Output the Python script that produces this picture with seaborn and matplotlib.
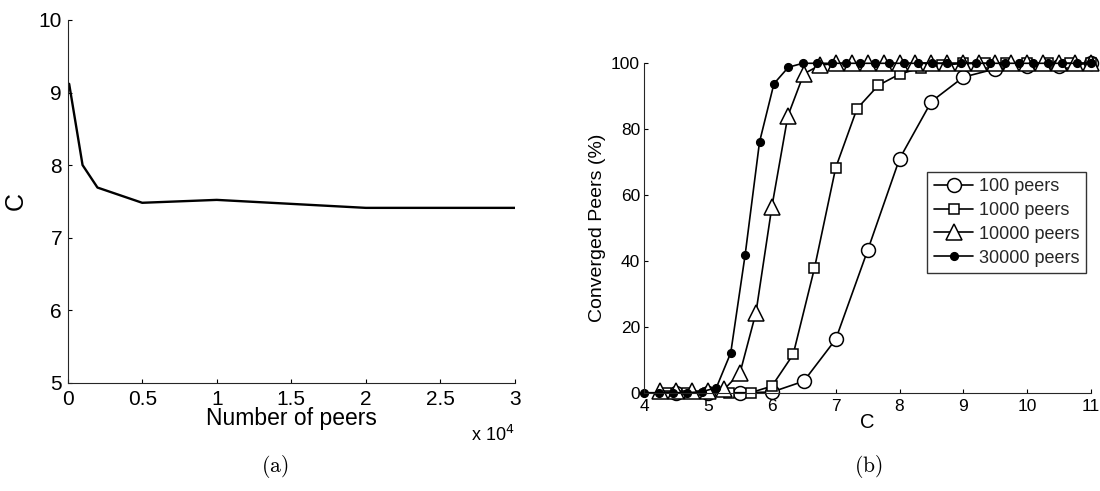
import matplotlib
matplotlib.use("Agg")
import matplotlib.pyplot as plt
from matplotlib.ticker import FuncFormatter
import seaborn as sns

# ---------------- data: panel (a) ----------------
peers_a = [100, 1000, 2000, 5000, 10000, 20000, 30000]
c_a = [9.12, 8.0, 7.69, 7.48, 7.52, 7.41, 7.41]

# ---------------- data: panel (b) ----------------
x_100 = [4.5, 5.0, 5.5, 6.0, 6.5, 7.0, 7.5, 8.0, 8.5, 9.0, 9.5, 10.0, 10.5, 11.0]
y_100 = [0, 0, 0, 0.2, 3.5, 16.2, 43.2, 71, 88.4, 95.8, 98.3, 99.2, 99.3, 100]

x_1000 = [4.333, 4.667, 5.0, 5.333, 5.667, 6.0, 6.333, 6.667, 7.0, 7.333, 7.667,
          8.0, 8.333, 8.667, 9.0, 9.333, 9.667, 10.0, 10.333, 10.667, 11.0]
y_1000 = [0, 0, 0, 0, 0, 2, 11.6, 37.8, 68.3, 86.2, 93.3, 96.7, 98.6, 99.4,
          100, 100, 100, 100, 100, 100, 100]

x_10000 = [4.25, 4.5, 4.75, 5.0, 5.25, 5.5, 5.75, 6.0, 6.25, 6.5, 6.75, 7.0, 7.25,
           7.5, 7.75, 8.0, 8.25, 8.5, 8.75, 9.0, 9.25, 9.5, 9.75, 10.0, 10.25,
           10.5, 10.75, 11.0]
y_10000 = [0.5, 0.5, 0.5, 0.5, 1.0, 6.0, 24.3, 56.5, 84.0, 96.8, 99.4, 100, 100,
           100, 100, 100, 100, 100, 100, 100, 100, 100, 100, 100, 100, 100, 100, 100]

x_30000 = [4.0, 4.226, 4.452, 4.677, 4.903, 5.129, 5.355, 5.581, 5.806, 6.032,
           6.258, 6.484, 6.71, 6.935, 7.161, 7.387, 7.613, 7.839, 8.065, 8.29,
           8.516, 8.742, 8.968, 9.194, 9.419, 9.645, 9.871, 10.097, 10.323,
           10.548, 10.774, 11.0]
y_30000 = [0, 0, 0, 0, 0.3, 1.5, 12.1, 41.9, 76.1, 93.8, 98.8, 100, 100, 100, 100,
           100, 100, 100, 100, 100, 100, 100, 100, 100, 100, 100, 100, 100, 100,
           100, 100, 100]

labels_b = ["100 peers", "1000 peers", "10000 peers", "30000 peers"]

# ---------------- style ----------------
sns.set_theme(style="ticks")
plt.rcParams["font.family"] = ["Liberation Sans", "DejaVu Sans"]
plt.rcParams["axes.linewidth"] = 0.8
plt.rcParams["xtick.direction"] = "in"
plt.rcParams["ytick.direction"] = "in"
plt.rcParams["xtick.major.width"] = 0.8
plt.rcParams["ytick.major.width"] = 0.8
plt.rcParams["xtick.major.size"] = 3
plt.rcParams["ytick.major.size"] = 3

fig = plt.figure(figsize=(11, 4.91), dpi=100)
fig.patch.set_facecolor("white")

# ---------------- panel (a) ----------------
ax1 = fig.add_axes([0.0615, 0.2206, 0.4066, 0.7387])
sns.lineplot(x=peers_a, y=c_a, ax=ax1, color="black", linewidth=1.7)
ax1.set_xlim(0, 30000)
ax1.set_ylim(5, 10)
ax1.set_xticks([0, 5000, 10000, 15000, 20000, 25000, 30000])
ax1.xaxis.set_major_formatter(FuncFormatter(lambda v, p: f"{v/1e4:g}"))
ax1.set_yticks([5, 6, 7, 8, 9, 10])
ax1.tick_params(axis="both", labelsize=15, colors="black")
ax1.tick_params(axis="x", pad=5)
ax1.tick_params(axis="y", pad=4)
ax1.set_xlabel("Number of peers", fontsize=16.5, labelpad=-1, color="black")
ax1.set_ylabel("C", fontsize=18, labelpad=8, color="black")
sns.despine(ax=ax1)
ax1.text(1.0, -0.145, r"x 10$^{4}$", transform=ax1.transAxes, ha="right",
         va="center", fontsize=13, color="black")

# ---------------- panel (b) ----------------
ax2 = fig.add_axes([0.5857, 0.2002, 0.4061, 0.6709])
common = dict(ax=ax2, color="black", linewidth=1.2, clip_on=False,
              markeredgecolor="black", markeredgewidth=1.1)
sns.lineplot(x=x_100, y=y_100, marker="o", markersize=10,
             markerfacecolor="white", label=labels_b[0], **common)
sns.lineplot(x=x_1000, y=y_1000, marker="s", markersize=7,
             markerfacecolor="white", label=labels_b[1], **common)
sns.lineplot(x=x_10000, y=y_10000, marker="^", markersize=11,
             markerfacecolor="white", label=labels_b[2], **common)
sns.lineplot(x=x_30000, y=y_30000, marker="o", markersize=5.5,
             markerfacecolor="black", label=labels_b[3], **common)
ax2.set_xlim(4, 11)
ax2.set_ylim(0, 100)
ax2.set_xticks([4, 5, 6, 7, 8, 9, 10, 11])
ax2.set_yticks([0, 20, 40, 60, 80, 100])
ax2.tick_params(axis="both", labelsize=12.5, colors="black")
ax2.tick_params(axis="x", pad=4.5)
ax2.tick_params(axis="y", pad=3)
ax2.set_xlabel("C", fontsize=14.5, labelpad=-1, color="black")
ax2.set_ylabel("Converged Peers (%)", fontsize=14, labelpad=4, color="black")
sns.despine(ax=ax2)
leg = ax2.legend(loc="upper right", bbox_to_anchor=(0.988, 0.671),
                 fontsize=13, frameon=True, fancybox=False, edgecolor="black",
                 handlelength=2.2, handletextpad=0.3, labelspacing=0.38,
                 borderpad=0.35, borderaxespad=0)
leg.get_frame().set_linewidth(1.0)

# ---------------- sub-captions ----------------
fig.text(275 / 1100, 1 - 467 / 491, r"$\mathrm{(a)}$", ha="center", va="center",
         fontsize=15.5, math_fontfamily="cm", color="black")
fig.text(868 / 1100, 1 - 467 / 491, r"$\mathrm{(b)}$", ha="center", va="center",
         fontsize=15.5, math_fontfamily="cm", color="black")

fig.savefig("out.png", dpi=100, facecolor="white")
